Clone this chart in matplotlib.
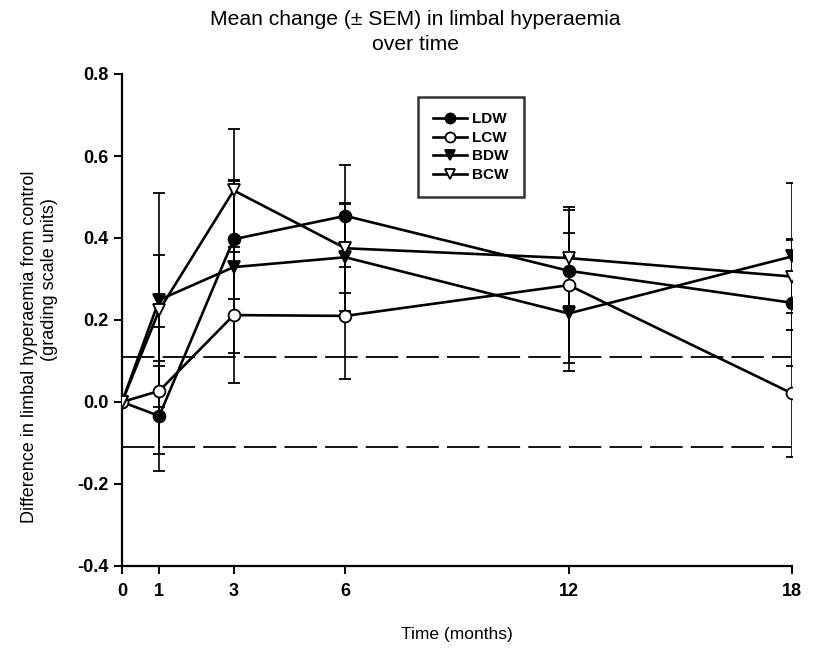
import matplotlib
matplotlib.use("Agg")
import matplotlib.pyplot as plt
import numpy as np

plt.rcParams['font.family'] = ['Liberation Sans', 'DejaVu Sans']

months = [0, 1, 3, 6, 12, 18]
ldw = [0, -0.034, 0.397, 0.454, 0.320, 0.242]
ldw_sem = [0, 0.135, 0.145, 0.125, 0.092, 0.155]
lcw = [0, 0.027, 0.212, 0.210, 0.285, 0.021]
lcw_sem = [0, 0.155, 0.165, 0.153, 0.19, 0.155]
bdw = [0, 0.249, 0.329, 0.353, 0.216, 0.355]
bdw_sem = [0, 0.26, 0.21, 0.13, 0.14, 0.18]
bcw = [0, 0.224, 0.516, 0.375, 0.351, 0.306]
bcw_sem = [0, 0.135, 0.15, 0.11, 0.118, 0.09]
limits = [0.11, -0.11]
series_names = ['LDW', 'LCW', 'BDW', 'BCW']
y_ticks = [-0.4, -0.2, 0.0, 0.2, 0.4, 0.6, 0.8]

W, H = 832, 648
fig = plt.figure(figsize=(W/100, H/100), dpi=100)
ax = fig.add_axes([122/W, 1-566/H, (792-122)/W, (566-74)/H])

styles = [
    dict(marker='o', mfc='black'),
    dict(marker='o', mfc='white'),
    dict(marker='v', mfc='black'),
    dict(marker='v', mfc='white'),
]
data = [(ldw, ldw_sem), (lcw, lcw_sem), (bdw, bdw_sem), (bcw, bcw_sem)]

for (vals, sem), st, name in zip(data, styles, series_names):
    ax.errorbar(months[1:], vals[1:], yerr=sem[1:], fmt='none', ecolor='black',
                elinewidth=1.2, capsize=4.5, capthick=1.3, zorder=2)
    ax.plot(months, vals, color='black', lw=1.9, marker=st['marker'],
            mfc=st['mfc'], mec='black', mew=1.3, ms=8.5, label=name, zorder=3)

for lv in limits:
    ax.axhline(lv, color='black', lw=1.3, ls=(0, (18, 4.5)), zorder=1)

ax.set_xlim(0, 18)
ax.set_ylim(-0.4, 0.8)
ax.set_xticks(months)
ax.set_yticks(y_ticks)
ax.set_yticklabels([f"{v:.1f}" for v in y_ticks])
for s in ['top', 'right']:
    ax.spines[s].set_visible(False)
for s in ['left', 'bottom']:
    ax.spines[s].set_linewidth(1.6)
ax.tick_params(direction='out', length=6, width=1.4, labelsize=13)
ax.tick_params(axis='x', pad=6)
for lab in ax.get_xticklabels() + ax.get_yticklabels():
    lab.set_fontweight('bold')

fig.text(457/W, 1-634/H, 'Time (months)', ha='center', va='center', fontsize=12.5)
fig.text(30/W, 1-347/H, 'Difference in limbal hyperaemia from control',
         rotation=90, ha='center', va='center', fontsize=13)
fig.text(50/W, 1-280/H, '(grading scale units)',
         rotation=90, ha='center', va='center', fontsize=13)
fig.text(415/W, 1-32/H, 'Mean change (± SEM) in limbal hyperaemia\nover time',
         ha='center', va='center', fontsize=15.2, linespacing=1.4)

leg = ax.legend(loc='upper left', bbox_to_anchor=(418/W, 1-97/H),
                bbox_transform=fig.transFigure, frameon=True, fancybox=False,
                edgecolor='black', prop={'weight': 'bold', 'size': 11},
                handlelength=2.2, borderpad=1.0, labelspacing=0.3,
                handletextpad=0.35, borderaxespad=0, markerscale=0.85)
leg.get_frame().set_linewidth(1.8)

fig.savefig('out.png', dpi=100, facecolor='white')
